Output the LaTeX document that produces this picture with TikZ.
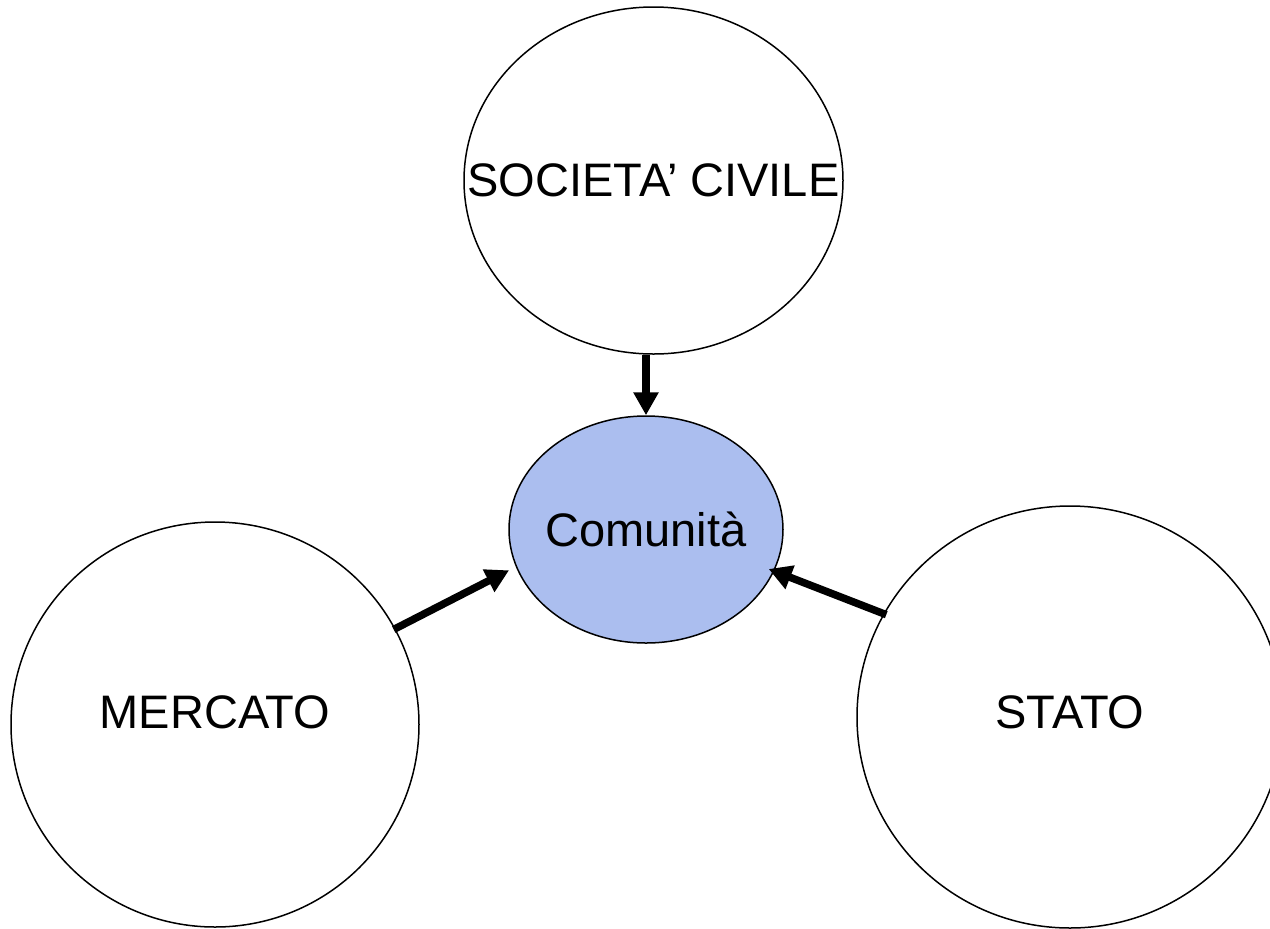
\documentclass[tikz,border=0pt]{standalone}
\usepackage{fontspec}
\setmainfont{Liberation Sans}
\usepackage{tikz}
\usetikzlibrary{shapes.geometric, arrows.meta}
\definecolor{comblue}{RGB}{171,190,239}

\begin{document}
\begin{tikzpicture}[x=0.5pt, y=-0.5pt,
        bubble/.style={ellipse, draw=black, line width=0.75pt, inner sep=0pt, font=\fontsize{23.5}{28}\selectfont},
        push/.style={-{Triangle[width=12pt,length=11.5pt]}, line width=3.75pt}]
    \useasboundingbox (0,0) rectangle (1270,928); % page size
    \node [bubble, minimum width=189.5pt, minimum height=173.5pt] (societa) at (653.5,180.5) {\makebox[0pt]{SOCIETA’ CIVILE}}; % top circle
    \node [bubble, fill=comblue, text depth=-3pt, minimum width=137pt, minimum height=113.5pt] (comunita) at (646,529.5) {\makebox[0pt]{Comunità}}; % blue middle
    \node [bubble, text depth=12pt, minimum width=204pt, minimum height=202.5pt] (mercato) at (215,724.5) {MERCATO}; % left circle
    \node [bubble, text depth=5pt, minimum width=213pt, minimum height=211pt] (stato) at (1070,717) {STATO}; % right circle
    % arrows into the community
    \draw [push] (comunita.north |- societa.south) -- (comunita.north);
    \draw [push, shorten <=-1pt, shorten >=3.8pt] (mercato.28) -- (comunita.196);
    \draw [push, shorten <=-1.5pt, shorten >=-3pt] (stato.151) -- (comunita.342);
\end{tikzpicture}
\end{document}
